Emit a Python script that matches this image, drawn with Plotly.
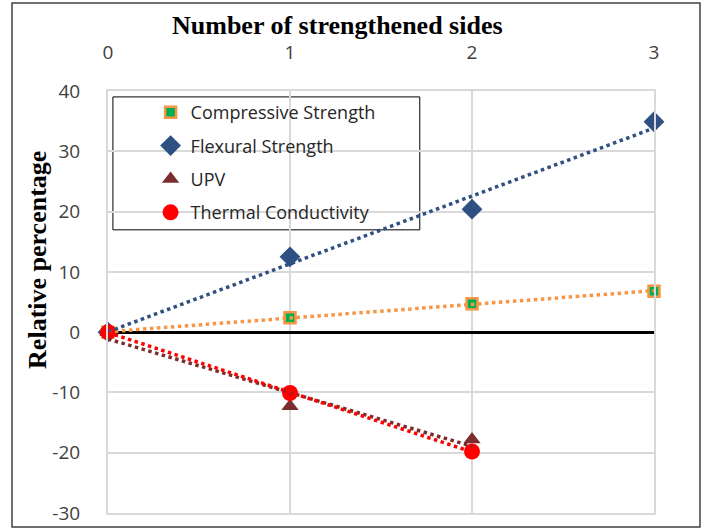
import numpy as np
import plotly.graph_objects as go

sides = [0, 1, 2, 3]
compressive = [0, 2.4, 4.7, 6.8]
flexural = [0, 12.5, 20.4, 34.9]
upv_sides = [0, 1, 2]
upv = [0, -12.3, -17.8]
thermal_sides = [0, 1, 2]
thermal = [0, -10.1, -19.8]

y_ticks = [-30, -20, -10, 0, 10, 20, 30, 40]
y_labels = ["-30", "-20", "-10", "0", "10", "20", "30", "40"]

series = [
    ("Compressive Strength", sides, compressive,
     dict(symbol="square", size=11, color="#00B050", line=dict(color="#F79646", width=2.5)), "#F79646"),
    ("Flexural Strength", sides, flexural,
     dict(symbol="diamond", size=16, color="#2F5082", line=dict(width=0)), "#2F5082"),
    ("UPV", upv_sides, upv,
     dict(symbol="triangle-up", size=15, color="#7B2C2C", line=dict(width=0)), "#7B2C2C"),
    ("Thermal Conductivity", thermal_sides, thermal,
     dict(symbol="circle", size=16, color="#FF0000", line=dict(width=0)), "#FF0000"),
]

fig = go.Figure()

for name, xs, ys, marker, color in series:
    fig.add_trace(go.Scatter(
        x=xs, y=ys, mode="markers", name=name, marker=marker,
        legendgroup=name, cliponaxis=False,
    ))

# linear trendlines (Excel style), fitted from the data
for name, xs, ys, marker, color in series:
    slope, icpt = np.polyfit(xs, ys, 1)
    tx = [xs[0], xs[-1]]
    fig.add_trace(go.Scatter(
        x=tx, y=[icpt + slope * v for v in tx], mode="lines",
        line=dict(color=color, width=3.5, dash="dot"),
        showlegend=False, hoverinfo="skip", cliponaxis=False,
    ))

grid = "#D9D9D9"
tick_font = dict(family="Open Sans", size=19, color="#404040")
title_font = dict(family="Liberation Serif", size=26, color="black")

fig.update_xaxes(
    range=[0, 3], side="top", tickvals=sides, automargin=False,
    showgrid=True, gridcolor=grid, gridwidth=2,
    showline=True, linecolor=grid, linewidth=2, mirror=True,
    zeroline=False, tickfont=tick_font, ticks="", ticklabelstandoff=22,
)
fig.update_yaxes(
    range=[-30, 40], tickvals=y_ticks, ticktext=y_labels, automargin=False,
    showgrid=True, gridcolor=grid, gridwidth=2,
    showline=True, linecolor=grid, linewidth=2, mirror=True,
    zeroline=True, zerolinecolor="black", zerolinewidth=2.5,
    tickfont=tick_font, ticks="", ticklabelstandoff=22,
)

fig.update_layout(
    width=704, height=529,
    margin=dict(l=108, r=50, t=91, b=16),
    plot_bgcolor="white", paper_bgcolor="white",
    showlegend=True,
    legend=dict(
        x=0.078, y=0.993, xanchor="left", yanchor="top",
        bgcolor="rgba(0,0,0,0)", borderwidth=0,
        font=dict(family="Open Sans", size=18, color="#262626"),
        tracegroupgap=7, itemwidth=30,
    ),
    shapes=[
        # legend frame
        dict(type="rect", xref="paper", yref="paper",
             x0=0.009, x1=0.571, y0=0.671, y1=0.986,
             line=dict(color="black", width=1), fillcolor="white", layer="below"),
        # chart border
        dict(type="rect", xref="paper", yref="paper",
             x0=-0.1758, x1=1.0842, y0=-0.0332, y1=1.2085,
             line=dict(color="#404040", width=1.5)),
    ],
    annotations=[
        dict(text="<b>Number of strengthened sides</b>", xref="paper", yref="paper",
             x=0.42, y=1.155, xanchor="center", yanchor="middle",
             showarrow=False, font=title_font),
        dict(text="<b>Relative percentage</b>", xref="paper", yref="paper",
             x=-0.128, y=0.6, xanchor="center", yanchor="middle", textangle=-90,
             showarrow=False, font=title_font),
    ],
)

fig.write_html("out.html", config={"displayModeBar": False},
               post_script="document.body.style.margin='0';")
